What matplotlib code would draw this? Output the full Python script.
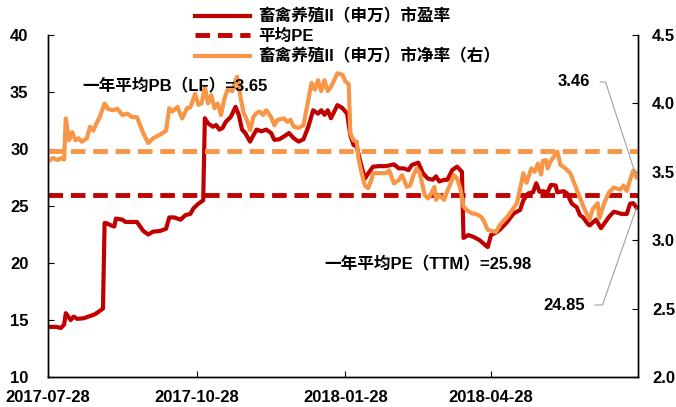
import matplotlib
matplotlib.use('Agg')
import matplotlib.pyplot as plt
import matplotlib.dates as mdates
import pandas as pd

plt.rcParams['font.family'] = ['Liberation Sans', 'Noto Sans CJK SC']
plt.rcParams['font.weight'] = 'bold'
plt.rcParams['axes.unicode_minus'] = False

START = pd.Timestamp('2017-07-28')

# PE (TTM), left axis: days since 2017-07-28 and value
pe_day = [0, 5, 8, 10, 11, 14, 16, 18, 22, 26, 29, 32, 34,
          35, 36, 39, 41, 42, 46, 48, 51, 55, 57, 59, 62, 65, 69, 73,
          75, 78, 82, 85, 88, 90, 93, 96,
          97, 99, 102, 104, 106, 108, 110, 113, 116, 118, 120, 122, 125,
          127, 129, 132, 135, 138, 140, 143, 146, 149, 152, 155, 158,
          161, 164, 167, 169, 171, 173, 175, 179, 182, 185, 187, 189, 191,
          193, 196, 198, 201, 205, 209, 214, 217, 220, 223, 225, 229, 232,
          235, 238, 240, 242, 245, 247, 250, 253, 256,
          257, 260, 263, 267, 271, 272, 274, 278, 280, 284, 288, 292, 294,
          297, 300, 302, 304, 306, 309, 311, 314, 315, 319, 321, 324, 327,
          329, 331, 334, 335, 339, 342, 347, 350, 355, 358, 360, 362, 364]
pe_val = [14.4, 14.4, 14.3, 14.6, 15.6, 15.0, 15.3, 15.1, 15.15, 15.35, 15.5, 15.8, 16.0,
          23.5, 23.5, 23.3, 23.2, 23.9, 23.8, 23.6, 23.6, 23.6, 23.2, 22.8, 22.5, 22.75, 22.8, 23.0,
          24.0, 24.0, 23.8, 24.2, 24.3, 24.8, 25.2, 25.5,
          32.7, 32.25, 31.95, 32.1, 31.7, 31.85, 32.4, 32.8, 33.7, 33.0, 31.7, 31.4, 30.65,
          31.2, 31.7, 31.55, 31.7, 31.4, 30.8, 30.85, 31.1, 31.4, 30.95, 30.65, 30.85,
          31.95, 33.4, 33.1, 33.4, 33.0, 33.4, 32.7, 33.85, 33.6, 33.1, 31.2, 30.35, 30.2,
          29.0, 27.4, 27.85, 28.45, 28.5, 28.5, 28.65, 28.3, 28.3, 28.15, 28.6, 28.8, 27.85,
          27.4, 27.3, 27.6, 27.15, 27.3, 27.3, 28.15, 28.45, 28.0,
          22.2, 22.45, 22.3, 22.0, 21.5, 21.4, 22.45, 22.75, 23.0, 23.6, 24.35, 24.65, 25.5,
          26.1, 26.2, 27.0, 26.25, 26.3, 26.2, 26.85, 26.8, 26.2, 26.3, 26.1, 25.2, 24.9,
          24.2, 24.0, 23.4, 23.3, 23.8, 23.05, 24.05, 24.5, 24.3, 24.3, 25.2, 25.25, 24.85]

# PB (LF), right axis
pb_day = [0, 3, 6, 8, 10, 11, 13, 15, 17, 19, 21, 24, 26, 28, 30, 32,
          35, 37, 40, 43, 46, 49, 52, 55, 57, 59, 62, 65, 69, 73,
          75, 77, 80, 83, 86, 88, 91, 93, 95,
          97, 99, 101, 103, 105, 107, 109, 111, 114, 116, 117, 119, 121, 123, 125,
          127, 129, 131, 133, 135, 138, 140, 142, 146, 148, 150, 152, 155, 158,
          161, 163, 165, 167, 169, 171, 173, 175, 179, 182, 184, 186,
          187, 189, 191, 192, 194, 196, 198, 200, 201, 205, 209, 211, 214, 217,
          219, 222, 224, 226, 228, 230, 233, 235, 237, 239, 240, 242, 245, 247,
          249, 251, 253, 255, 257, 259, 262, 265, 268, 270, 272, 274, 277, 280,
          284, 290, 293, 294, 296, 299, 301, 303, 305, 306, 308, 309, 311, 315,
          317, 320, 323, 327, 331, 335, 337, 340, 341, 344, 347, 350, 354, 356,
          358, 360, 362, 363, 364]
pb_val = [3.574, 3.60, 3.586, 3.60, 3.59, 3.89, 3.73, 3.79, 3.73, 3.745, 3.72, 3.745, 3.83, 3.80, 3.855, 3.90,
          4.0, 3.96, 3.95, 3.96, 3.915, 3.925, 3.90, 3.90, 3.84, 3.78, 3.71, 3.745, 3.77, 3.80,
          3.965, 3.94, 3.975, 3.89, 3.965, 3.97, 4.07, 3.99, 4.0,
          4.12, 4.0, 4.06, 3.965, 4.0, 3.915, 4.03, 4.10, 4.09, 4.17, 4.195, 4.05, 3.93, 3.88, 3.805,
          3.90, 3.93, 3.94, 3.915, 3.95, 3.90, 3.84, 3.88, 3.89, 3.865, 3.88, 3.83, 3.82, 3.84,
          4.025, 4.15, 4.10, 4.17, 4.09, 4.17, 4.09, 4.12, 4.22, 4.21, 4.16, 4.14,
          3.78, 3.73, 3.72, 3.60, 3.49, 3.40, 3.38, 3.44, 3.49, 3.49, 3.49, 3.51, 3.415, 3.44,
          3.475, 3.39, 3.40, 3.475, 3.525, 3.49, 3.33, 3.305, 3.34, 3.39, 3.295, 3.33, 3.295, 3.36,
          3.415, 3.477, 3.45, 3.38, 3.245, 3.22, 3.197, 3.19, 3.17, 3.13, 3.075, 3.07, 3.06, 3.12,
          3.17, 3.27, 3.43, 3.49, 3.42, 3.525, 3.50, 3.56, 3.48, 3.58, 3.586, 3.525, 3.58, 3.647,
          3.55, 3.525, 3.49, 3.37, 3.25, 3.15, 3.23, 3.27, 3.16, 3.27, 3.35, 3.385, 3.37, 3.40,
          3.36, 3.44, 3.51, 3.50, 3.46]

pe_avg = 25.98
pb_avg = 3.65

labels = ['畜禽养殖II（申万）市盈率', '平均PE', '畜禽养殖II（申万）市净率（右）']
tick_dates = ['2017-07-28', '2017-10-28', '2018-01-28', '2018-04-28']

RED = '#C00000'
ORANGE = '#F79646'


def main():
    pe_dates = START + pd.to_timedelta(pe_day, unit='D')
    pb_dates = START + pd.to_timedelta(pb_day, unit='D')

    fig = plt.figure(figsize=(6.76, 4.07), dpi=100)
    ax = fig.add_axes([0.071, 0.0737, 0.873, 0.8403])
    ax2 = ax.twinx()

    l1, = ax.plot(pe_dates, pe_val, color=RED, lw=3.0, solid_joinstyle='round')
    l2 = ax.axhline(pe_avg, color=RED, lw=3.5, ls=(0, (3, 1.6)))
    l3, = ax2.plot(pb_dates, pb_val, color=ORANGE, lw=3.0, solid_joinstyle='round')
    ax2.axhline(pb_avg, color=ORANGE, lw=3.5, ls=(0, (3, 1.6)))

    ax.set_xlim(START, pd.Timestamp('2018-07-28'))
    ax.set_ylim(10, 40)
    ax2.set_ylim(2.0, 4.5)
    ax.set_yticks(range(10, 41, 5))
    ax2.set_yticks([2.0, 2.5, 3.0, 3.5, 4.0, 4.5])
    ax2.yaxis.set_major_formatter(matplotlib.ticker.FormatStrFormatter('%.1f'))
    ax.set_xticks(pd.to_datetime(tick_dates))
    ax.xaxis.set_major_formatter(mdates.DateFormatter('%Y-%m-%d'))

    for a in (ax, ax2):
        a.spines['top'].set_visible(False)
        for s in a.spines.values():
            s.set_linewidth(1.0)
            s.set_color('black')
    ax.tick_params(axis='y', direction='in', length=4, pad=14, labelsize=12)
    ax.tick_params(axis='x', direction='in', length=4, pad=9, labelsize=12)
    ax2.tick_params(axis='y', direction='in', length=4, pad=10, labelsize=12)

    # annotations (on the twin axes so they sit above the lines)
    ax2.text(0.058, 0.851, '一年平均PB（LF）=3.65', transform=ax2.transAxes,
             fontsize=12, ha='left', va='center', zorder=6)
    ax2.text(0.819, 0.33, '一年平均PE（TTM）=25.98', transform=ax2.transAxes,
             fontsize=12, ha='right', va='center', zorder=6)

    ax2.annotate('3.46', xy=(pb_dates[-1], pb_val[-1]), xytext=(0.919, 0.8626),
                 textcoords='axes fraction', ha='right', va='center', fontsize=12,
                 arrowprops=dict(arrowstyle='-', color='#A0A0A0', lw=0.8,
                                 shrinkA=5, shrinkB=0,
                                 connectionstyle='angle,angleA=0,angleB=108'))
    ax.annotate('24.85', xy=(pe_dates[-1], pe_val[-1]), xytext=(0.910, 0.2105),
                textcoords='axes fraction', ha='right', va='center', fontsize=12,
                arrowprops=dict(arrowstyle='-', color='#A0A0A0', lw=0.8,
                                shrinkA=5, shrinkB=0,
                                connectionstyle='angle,angleA=0,angleB=70.7'))

    ax2.legend([l1, l2, l3], labels, loc='upper left', bbox_to_anchor=(0.288, 0.979),
               bbox_transform=fig.transFigure, frameon=False, fontsize=12,
               handlelength=3.3, handletextpad=0.5, labelspacing=0.25,
               borderpad=0, borderaxespad=0)

    fig.savefig('out.png', dpi=100)


if __name__ == '__main__':
    main()
